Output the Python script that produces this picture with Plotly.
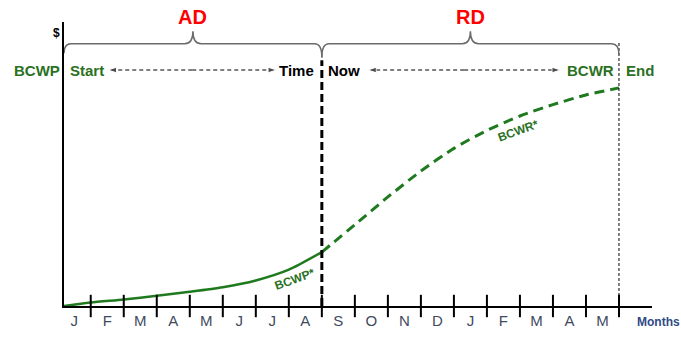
import plotly.graph_objects as go

# ---- data ----
month_labels = ["J", "F", "M", "A", "M", "J", "J", "A", "S", "O", "N", "D", "J", "F", "M", "A", "M"]
tick_positions = list(range(1, 18))          # month boundaries
label_positions = [i + 0.5 for i in range(17)]

bcwp_x = [0.19, 1, 2, 3, 4, 5, 6, 7, 8]
bcwp_y = [0.0, 1.2, 2.3, 3.6, 5.0, 6.6, 9.0, 12.8, 19.0]

bcwr_x = [8, 9, 10, 11, 12, 13, 14, 15, 16, 17]
bcwr_y = [19.0, 28.6, 38.4, 47.5, 55.5, 61.8, 66.9, 70.9, 74.3, 76.8]

x_start = 0.19
time_now = 8
x_end = 17
x_max = 18

GREEN = "#1f7a1f"
TEXT_GREEN = "#2a711f"
FONT = "Liberation Sans, Arial, sans-serif"

fig = go.Figure()

# BCWP (actual) solid
fig.add_trace(go.Scatter(x=bcwp_x, y=bcwp_y, mode="lines",
                         line=dict(color=GREEN, width=2.5, shape="spline", smoothing=0.7),
                         hoverinfo="skip", showlegend=False))
# BCWR (remaining) dashed
fig.add_trace(go.Scatter(x=bcwr_x, y=bcwr_y, mode="lines",
                         line=dict(color=GREEN, width=3, dash="10px,6px", shape="spline", smoothing=0.7),
                         hoverinfo="skip", showlegend=False))

# Time Now vertical dashed line
fig.add_trace(go.Scatter(x=[time_now, time_now], y=[0, 86.5], mode="lines",
                         line=dict(color="black", width=3, dash="8px,4px"),
                         hoverinfo="skip", showlegend=False))
# End vertical thin dashed line
fig.add_trace(go.Scatter(x=[x_end, x_end], y=[0, 93], mode="lines",
                         line=dict(color="black", width=1, dash="3px,2px"),
                         hoverinfo="skip", showlegend=False))

# month tick marks crossing the axis
fig.add_trace(go.Scatter(x=tick_positions, y=[0] * len(tick_positions), mode="markers",
                         marker=dict(symbol="line-ns", size=16, line=dict(color="black", width=2)),
                         cliponaxis=False, hoverinfo="skip", showlegend=False))

# dashed double arrows
row_y = 83.1
arrow_spans = [(1.52, 6.63), (9.39, 15.23)]
for a, b in arrow_spans:
    m = (a + b) / 2
    for end in (a, b):
        fig.add_trace(go.Scatter(x=[m, end], y=[row_y, row_y], mode="lines+markers",
                                 line=dict(color="black", width=1.2, dash="4px,3px"),
                                 marker=dict(symbol="arrow", size=[0, 9], angleref="previous",
                                             color="black"),
                                 cliponaxis=False, hoverinfo="skip", showlegend=False))

# braces
def brace(x0, x1, y_end0, y_end1, y_mid=92.3, y_top=96.7, r=0.22, rp=0.25):
    xc = (x0 + x1) / 2
    return (f"M {x0},{y_end0} Q {x0},{y_mid} {x0 + r},{y_mid} L {xc - rp},{y_mid} "
            f"Q {xc},{y_mid} {xc},{y_top} Q {xc},{y_mid} {xc + rp},{y_mid} "
            f"L {x1 - r},{y_mid} Q {x1},{y_mid} {x1},{y_end1}")

shapes = [
    dict(type="path", xref="x", yref="y", path=brace(x_start, time_now, 89.0, 87.5),
         line=dict(color="#6b6b6b", width=1.5)),
    dict(type="path", xref="x", yref="y", path=brace(time_now, x_end, 87.5, 88.5),
         line=dict(color="#6b6b6b", width=1.5)),
]

# helpers to convert data coords to paper coords for annotations outside the axis ranges
px_ = lambda xv: (xv - x_start) / (x_max - x_start)
py_ = lambda yv: yv / 100.0

bold = lambda s: f"<b>{s}</b>"
annotations = [
    dict(x=(x_start + time_now) / 2, xref="x", y=py_(101.6), yref="paper", text=bold("AD"),
         xanchor="center", yanchor="middle",
         showarrow=False, font=dict(family=FONT, size=20, color="#ff0000")),
    dict(x=(time_now + x_end) / 2, xref="x", y=py_(101.6), yref="paper", text=bold("RD"),
         xanchor="center", yanchor="middle",
         showarrow=False, font=dict(family=FONT, size=20, color="#ff0000")),
    dict(x=px_(0.13), xref="paper", y=row_y, yref="y", text=bold("BCWP"), xanchor="right",
         yanchor="middle", showarrow=False, font=dict(family=FONT, size=15, color=TEXT_GREEN)),
    dict(x=0.31, y=row_y, text=bold("Start"), xanchor="left", showarrow=False,
         font=dict(family=FONT, size=15, color=TEXT_GREEN)),
    dict(x=7.82, y=row_y, text=bold("Time"), xanchor="right", showarrow=False,
         font=dict(family=FONT, size=15, color="black")),
    dict(x=8.12, y=row_y, text=bold("Now"), xanchor="left", showarrow=False,
         font=dict(family=FONT, size=15, color="black")),
    dict(x=16.9, y=row_y, text=bold("BCWR"), xanchor="right", showarrow=False,
         font=dict(family=FONT, size=15, color=TEXT_GREEN)),
    dict(x=17.14, y=row_y, text=bold("End"), xanchor="left", showarrow=False,
         font=dict(family=FONT, size=15, color=TEXT_GREEN)),
    dict(x=7.2, y=9.4, text=bold("BCWP*"), showarrow=False, textangle=-20,
         font=dict(family=FONT, size=12, color=TEXT_GREEN)),
    dict(x=13.93, y=61.7, text=bold("BCWR*"), showarrow=False, textangle=-20,
         font=dict(family=FONT, size=12, color=TEXT_GREEN)),
    dict(x=px_(-0.05), xref="paper", y=96.0, yref="y", text=bold("$"), showarrow=False,
         xanchor="center", yanchor="middle",
         font=dict(family=FONT, size=12, color="black")),
    dict(x=px_(18.2), xref="paper", y=py_(-5.5), yref="paper", text=bold("Months"),
         xanchor="center", yanchor="middle", showarrow=False,
         font=dict(family=FONT, size=12, color="#2e4a86")),
]

fig.update_layout(
    width=681, height=337,
    margin=dict(l=64, r=29, t=22, b=31, autoexpand=False),
    plot_bgcolor="white", paper_bgcolor="white",
    shapes=shapes, annotations=annotations,
    xaxis=dict(range=[x_start, x_max], showgrid=False, zeroline=False,
               showline=True, linecolor="black", linewidth=2,
               tickmode="array", tickvals=label_positions, ticktext=month_labels,
               ticks="", tickfont=dict(family=FONT, size=15, color="#3f4a5e")),
    yaxis=dict(range=[0, 100], showgrid=False, zeroline=False,
               showline=True, linecolor="black", linewidth=2,
               showticklabels=False, ticks=""),
)

fig.write_html("out.html", config={"displayModeBar": False},
               post_script="document.body.style.margin='0';")
